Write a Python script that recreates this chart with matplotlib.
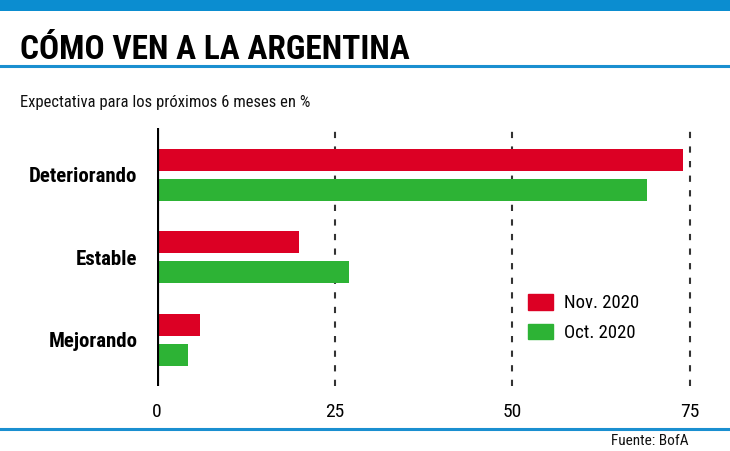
import matplotlib
matplotlib.use('Agg')
import matplotlib.pyplot as plt
from matplotlib.patches import Rectangle, Patch
from matplotlib.lines import Line2D

plt.rcParams['font.family'] = ['Roboto Condensed', 'Liberation Sans Narrow',
                               'DejaVu Sans']
plt.rcParams['font.stretch'] = 'condensed'

categories = ['Deteriorando', 'Estable', 'Mejorando']
nov_2020 = [74, 20, 6]
oct_2020 = [69, 27, 4.4]
series_labels = ['Nov. 2020', 'Oct. 2020']
x_ticks = [0, 25, 50, 75]

RED = '#dc0024'
GREEN = '#2db335'
BLUE = '#1a8fd0'

W, H = 730, 451
fig = plt.figure(figsize=(W / 100, H / 100), dpi=100)
fig.patch.set_facecolor('white')


def fx(px):
    return px / W


def fy(py):
    return 1 - py / H


# decorations
fig.add_artist(Rectangle((0, fy(11)), 1, 11 / H, transform=fig.transFigure,
                         color='#0b8dd0', lw=0))
fig.add_artist(Line2D([0, 1], [fy(66), fy(66)], transform=fig.transFigure,
                      color=BLUE, lw=2.2))
fig.add_artist(Line2D([0, 1], [fy(429), fy(429)], transform=fig.transFigure,
                      color=BLUE, lw=2.2))

fig.text(fx(20), fy(50), 'CÓMO VEN A LA ARGENTINA', fontsize=24,
         fontweight='black', va='center', ha='left', color='black')
fig.text(fx(20), fy(102), 'Expectativa para los próximos 6 meses en %',
         fontsize=12, va='center', ha='left', color='#111111')
fig.text(fx(689), fy(441), 'Fuente: BofA', fontsize=11, va='center',
         ha='right', color='#111111')

# chart
ax = fig.add_axes([fx(157), fy(386), fx(697) - fx(157), (386 - 128) / H])
pos = list(range(len(categories)))
bh = 0.267
off = 0.182
ax.barh([p - off for p in pos], nov_2020, height=bh, color=RED, zorder=3)
ax.barh([p + off for p in pos], oct_2020, height=bh, color=GREEN, zorder=3)

ax.set_xlim(0, 76)
ax.set_ylim(2.56, -0.57)

for t in x_ticks[1:]:
    ax.axvline(t, color='#333333', lw=1.5, ls=(0, (3, 4)), zorder=1)
ax.axvline(0, color='black', lw=3, zorder=4)

for s in ax.spines.values():
    s.set_visible(False)

ax.set_xticks(x_ticks)
ax.set_xticklabels([str(t) for t in x_ticks], fontsize=14)
ax.set_yticks(pos)
ax.set_yticklabels(categories, fontsize=15, fontweight='black')
ax.tick_params(axis='x', length=0, pad=12)
ax.tick_params(axis='y', length=0, pad=14)

handles = [Patch(color=RED), Patch(color=GREEN)]
fig.legend(handles, series_labels, loc='upper left',
           bbox_to_anchor=(fx(528), fy(294)), frameon=False, fontsize=13.5,
           borderpad=0, borderaxespad=0, handlelength=1.35, handleheight=0.9,
           labelspacing=0.6, handletextpad=0.55)

fig.savefig('out.png', dpi=100)
